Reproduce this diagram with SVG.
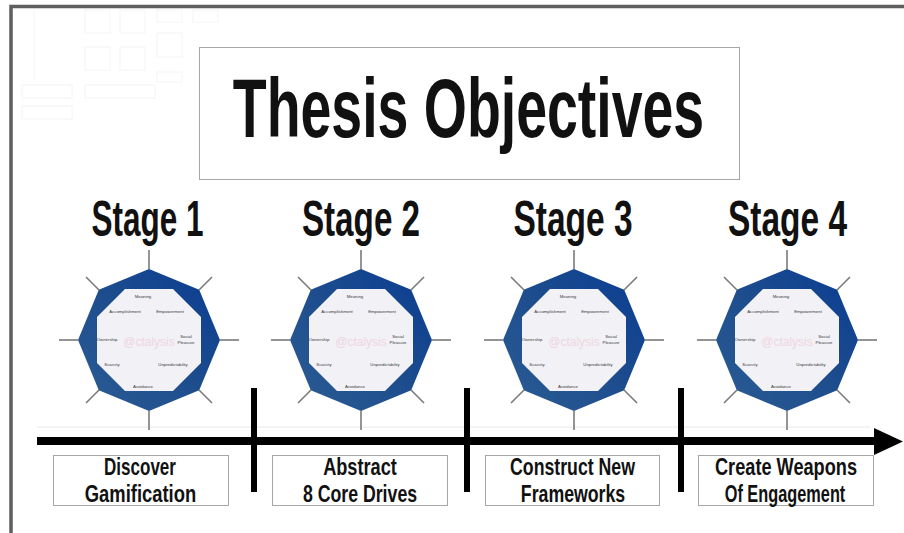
<svg xmlns="http://www.w3.org/2000/svg" width="904" height="533" viewBox="0 0 904 533">
  <style>
    .cond { font-family: "Liberation Sans", Arial, sans-serif; font-weight: 700; fill: #111; text-anchor: middle; }
    .title { font-size: 84px; }
    .stage { font-size: 50px; }
    .lbl { font-size: 23px; }
    .box { fill: #ffffff; stroke: #a6a6a6; stroke-width: 1; }
    .faint { fill: none; stroke: #f4f4f4; stroke-width: 1; }
    .outer { fill: url(#band); }
    .inner { fill: #f1f1f6; }
    .spoke { stroke: #7a7a7a; stroke-width: 1.6; }
    .tiny { font-family: "Liberation Sans", Arial, sans-serif; font-size: 4.3px; fill: #3a3a3a; text-anchor: middle; }
    .wm { font-family: "Liberation Sans", Arial, sans-serif; font-size: 12px; fill: #efd6dd; text-anchor: middle; }
    .bar { stroke: #000; stroke-width: 6; }
  </style>
  <defs>
    <linearGradient id="band" x1="0" y1="1" x2="1" y2="0">
      <stop offset="0" stop-color="#2d5d94"/>
      <stop offset="0.5" stop-color="#1d4d8d"/>
      <stop offset="1" stop-color="#0a3c92"/>
    </linearGradient>
  </defs>

  <!-- background and frame -->
  <rect x="0" y="0" width="904" height="533" fill="#ffffff"/>
  <rect x="11" y="6.5" width="900" height="540" fill="none" stroke="#5e5e5e" stroke-width="3.5"/>

  <!-- faint backdrop grid in the upper left -->
  <g id="backdrop">
    <rect class="faint" x="85" y="10" width="25" height="23"/>
    <rect class="faint" x="120" y="10" width="25" height="23"/>
    <rect class="faint" x="85" y="47" width="25" height="23"/>
    <rect class="faint" x="120" y="47" width="25" height="23"/>
    <rect class="faint" x="157" y="10" width="25" height="12"/>
    <rect class="faint" x="193" y="10" width="25" height="12"/>
    <rect class="faint" x="157" y="33" width="25" height="24"/>
    <rect class="faint" x="157" y="72" width="25" height="10"/>
    <line class="faint" x1="34" y1="10" x2="34" y2="80"/>
    <rect class="faint" x="22" y="85" width="50" height="13"/>
    <rect class="faint" x="22" y="106" width="50" height="13"/>
    <rect class="faint" x="85" y="85" width="70" height="13"/>
    <line x1="37" y1="427" x2="870" y2="427" stroke="#e8e8e8" stroke-width="1"/>
  </g>

  <!-- title -->
  <g id="title">
    <rect class="box" x="199.5" y="47.5" width="540" height="132" stroke="#c8c8c8"/>
    <text class="cond title" transform="translate(468.5,137) scale(0.66,1)">Thesis Objectives</text>
  </g>

  <!-- stage headings -->
  <g id="stage1-head"><text class="cond stage" transform="translate(147.5,236) scale(0.63,1)">Stage 1</text></g>
  <g id="stage2-head"><text class="cond stage" transform="translate(361,236) scale(0.665,1)">Stage 2</text></g>
  <g id="stage3-head"><text class="cond stage" transform="translate(573,236) scale(0.67,1)">Stage 3</text></g>
  <g id="stage4-head"><text class="cond stage" transform="translate(787.5,236) scale(0.67,1)">Stage 4</text></g>

  <!-- octagon wheels -->
  <g id="wheel1" transform="translate(149,340)">
    <g class="spoke">
      <line x1="0" y1="-71" x2="0" y2="-90"/><line x1="0" y1="71" x2="0" y2="90"/>
      <line x1="-71" y1="0" x2="-90" y2="0"/><line x1="71" y1="0" x2="90" y2="0"/>
      <line x1="50" y1="-50" x2="63" y2="-63"/><line x1="-50" y1="-50" x2="-63" y2="-63"/>
      <line x1="50" y1="50" x2="63" y2="63"/><line x1="-50" y1="50" x2="-63" y2="63"/>
    </g>
    <polygon class="outer" points="0,-71 50.2,-50.2 71,0 50.2,50.2 0,71 -50.2,50.2 -71,0 -50.2,-50.2"/>
    <polygon class="inner" points="-24,-51 24,-51 52,-23 52,23 24,51 -24,51 -52,23 -52,-23"/>
    <text class="wm" x="0" y="6">@ctalysis</text>
    <text class="tiny" x="-6" y="-42">Meaning</text>
    <text class="tiny" x="-24" y="-27">Accomplishment</text>
    <text class="tiny" x="21" y="-27">Empowerment</text>
    <text class="tiny" x="-42" y="1">Ownership</text>
    <text class="tiny" x="37" y="-2">Social</text>
    <text class="tiny" x="37" y="4">Pleasure</text>
    <text class="tiny" x="-37" y="26">Scarcity</text>
    <text class="tiny" x="24" y="26">Unpredictability</text>
    <text class="tiny" x="-6" y="48">Avoidance</text>
  </g>
  <g id="wheel2" transform="translate(361,340)">
    <g class="spoke">
      <line x1="0" y1="-71" x2="0" y2="-90"/><line x1="0" y1="71" x2="0" y2="90"/>
      <line x1="-71" y1="0" x2="-90" y2="0"/><line x1="71" y1="0" x2="90" y2="0"/>
      <line x1="50" y1="-50" x2="63" y2="-63"/><line x1="-50" y1="-50" x2="-63" y2="-63"/>
      <line x1="50" y1="50" x2="63" y2="63"/><line x1="-50" y1="50" x2="-63" y2="63"/>
    </g>
    <polygon class="outer" points="0,-71 50.2,-50.2 71,0 50.2,50.2 0,71 -50.2,50.2 -71,0 -50.2,-50.2"/>
    <polygon class="inner" points="-24,-51 24,-51 52,-23 52,23 24,51 -24,51 -52,23 -52,-23"/>
    <text class="wm" x="0" y="6">@ctalysis</text>
    <text class="tiny" x="-6" y="-42">Meaning</text>
    <text class="tiny" x="-24" y="-27">Accomplishment</text>
    <text class="tiny" x="21" y="-27">Empowerment</text>
    <text class="tiny" x="-42" y="1">Ownership</text>
    <text class="tiny" x="37" y="-2">Social</text>
    <text class="tiny" x="37" y="4">Pleasure</text>
    <text class="tiny" x="-37" y="26">Scarcity</text>
    <text class="tiny" x="24" y="26">Unpredictability</text>
    <text class="tiny" x="-6" y="48">Avoidance</text>
  </g>
  <g id="wheel3" transform="translate(574,340)">
    <g class="spoke">
      <line x1="0" y1="-71" x2="0" y2="-90"/><line x1="0" y1="71" x2="0" y2="90"/>
      <line x1="-71" y1="0" x2="-90" y2="0"/><line x1="71" y1="0" x2="90" y2="0"/>
      <line x1="50" y1="-50" x2="63" y2="-63"/><line x1="-50" y1="-50" x2="-63" y2="-63"/>
      <line x1="50" y1="50" x2="63" y2="63"/><line x1="-50" y1="50" x2="-63" y2="63"/>
    </g>
    <polygon class="outer" points="0,-71 50.2,-50.2 71,0 50.2,50.2 0,71 -50.2,50.2 -71,0 -50.2,-50.2"/>
    <polygon class="inner" points="-24,-51 24,-51 52,-23 52,23 24,51 -24,51 -52,23 -52,-23"/>
    <text class="wm" x="0" y="6">@ctalysis</text>
    <text class="tiny" x="-6" y="-42">Meaning</text>
    <text class="tiny" x="-24" y="-27">Accomplishment</text>
    <text class="tiny" x="21" y="-27">Empowerment</text>
    <text class="tiny" x="-42" y="1">Ownership</text>
    <text class="tiny" x="37" y="-2">Social</text>
    <text class="tiny" x="37" y="4">Pleasure</text>
    <text class="tiny" x="-37" y="26">Scarcity</text>
    <text class="tiny" x="24" y="26">Unpredictability</text>
    <text class="tiny" x="-6" y="48">Avoidance</text>
  </g>
  <g id="wheel4" transform="translate(787,340)">
    <g class="spoke">
      <line x1="0" y1="-71" x2="0" y2="-90"/><line x1="0" y1="71" x2="0" y2="90"/>
      <line x1="-71" y1="0" x2="-90" y2="0"/><line x1="71" y1="0" x2="90" y2="0"/>
      <line x1="50" y1="-50" x2="63" y2="-63"/><line x1="-50" y1="-50" x2="-63" y2="-63"/>
      <line x1="50" y1="50" x2="63" y2="63"/><line x1="-50" y1="50" x2="-63" y2="63"/>
    </g>
    <polygon class="outer" points="0,-71 50.2,-50.2 71,0 50.2,50.2 0,71 -50.2,50.2 -71,0 -50.2,-50.2"/>
    <polygon class="inner" points="-24,-51 24,-51 52,-23 52,23 24,51 -24,51 -52,23 -52,-23"/>
    <text class="wm" x="0" y="6">@ctalysis</text>
    <text class="tiny" x="-6" y="-42">Meaning</text>
    <text class="tiny" x="-24" y="-27">Accomplishment</text>
    <text class="tiny" x="21" y="-27">Empowerment</text>
    <text class="tiny" x="-42" y="1">Ownership</text>
    <text class="tiny" x="37" y="-2">Social</text>
    <text class="tiny" x="37" y="4">Pleasure</text>
    <text class="tiny" x="-37" y="26">Scarcity</text>
    <text class="tiny" x="24" y="26">Unpredictability</text>
    <text class="tiny" x="-6" y="48">Avoidance</text>
  </g>

  <!-- timeline arrow and stage dividers -->
  <g id="connectors">
    <line x1="37" y1="441" x2="878" y2="441" stroke="#000" stroke-width="8"/>
    <polygon points="874,428 903,441.5 874,455" fill="#000"/>
    <line class="bar" x1="254" y1="388" x2="254" y2="492"/>
    <line class="bar" x1="467" y1="388" x2="467" y2="492"/>
    <line class="bar" x1="681" y1="388" x2="681" y2="492"/>
  </g>

  <!-- stage outcome labels -->
  <g id="label1">
    <rect class="box" x="53.5" y="455.5" width="175" height="50"/>
    <text class="cond lbl" transform="translate(140,475) scale(0.74,1)">Discover</text>
    <text class="cond lbl" transform="translate(140.5,502) scale(0.8,1)">Gamification</text>
  </g>
  <g id="label2">
    <rect class="box" x="272.5" y="455.5" width="175" height="50"/>
    <text class="cond lbl" transform="translate(360,475) scale(0.79,1)">Abstract</text>
    <text class="cond lbl" transform="translate(360,502) scale(0.77,1)">8 Core Drives</text>
  </g>
  <g id="label3">
    <rect class="box" x="485.5" y="455.5" width="174" height="50"/>
    <text class="cond lbl" transform="translate(572.5,475) scale(0.77,1)">Construct New</text>
    <text class="cond lbl" transform="translate(573,502) scale(0.77,1)">Frameworks</text>
  </g>
  <g id="label4">
    <rect class="box" x="698.5" y="455.5" width="175" height="50"/>
    <text class="cond lbl" transform="translate(786,475) scale(0.79,1)">Create Weapons</text>
    <text class="cond lbl" transform="translate(785,502) scale(0.71,1)">Of Engagement</text>
  </g>
</svg>
